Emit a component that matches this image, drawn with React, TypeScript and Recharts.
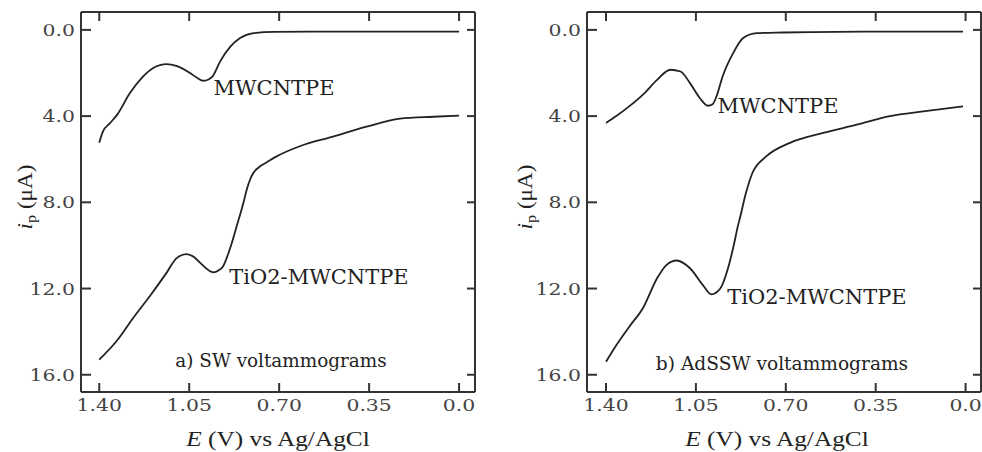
import React from 'react';
import { LineChart, Line, XAxis, YAxis } from 'recharts';

// x axis (potential, V) runs from 1.40 down to 0.0
const xTicks = [1.4, 1.05, 0.7, 0.35, 0];
const xTickLabels = ['1.40', '1.05', '0.70', '0.35', '0.0'];
const yTicks = [0, 4, 8, 12, 16];

// a) SW voltammograms
const swMwE = [1.4, 1.385, 1.36, 1.33, 1.28, 1.23, 1.19, 1.137, 1.1, 1.047, 1.02, 0.995, 0.975, 0.96, 0.93, 0.89, 0.852, 0.8, 0.72, 0.5, 0.25, 0.0];
const swMwI = [5.23, 4.7, 4.35, 3.93, 2.92, 2.17, 1.77, 1.59, 1.67, 2.0, 2.22, 2.36, 2.3, 2.17, 1.47, 0.78, 0.38, 0.15, 0.09, 0.08, 0.08, 0.08];
const swTiE = [1.4, 1.33, 1.27, 1.2, 1.137, 1.1, 1.06, 1.03, 1.008, 0.955, 0.935, 0.92, 0.89, 0.865, 0.839, 0.826, 0.813, 0.8, 0.774, 0.748, 0.71, 0.62, 0.49, 0.36, 0.23, 0.1, 0.0];
const swTiI = [15.3, 14.4, 13.4, 12.3, 11.25, 10.6, 10.4, 10.55, 10.8, 11.25, 11.15, 11.0, 10.1, 9.1, 8.02, 7.4, 6.94, 6.63, 6.33, 6.14, 5.87, 5.4, 4.95, 4.49, 4.12, 4.03, 3.98];

// b) AdSSW voltammograms
const adMwE = [1.4, 1.36, 1.31, 1.256, 1.2, 1.15, 1.11, 1.073, 1.035, 1.003, 0.985, 0.97, 0.946, 0.905, 0.866, 0.813, 0.71, 0.6, 0.4, 0.2, 0.01];
const adMwI = [4.32, 4.0, 3.55, 3.0, 2.31, 1.85, 1.93, 2.47, 3.16, 3.52, 3.45, 3.09, 2.16, 1.08, 0.38, 0.15, 0.12, 0.1, 0.08, 0.08, 0.08];
const adTiE = [1.4, 1.36, 1.31, 1.256, 1.2, 1.164, 1.125, 1.073, 1.022, 0.99, 0.955, 0.925, 0.9, 0.886, 0.88, 0.855, 0.83, 0.775, 0.684, 0.555, 0.424, 0.295, 0.165, 0.01];
const adTiI = [15.4, 14.63, 13.78, 12.9, 11.5, 10.9, 10.7, 11.06, 11.85, 12.27, 12.0, 11.06, 9.85, 9.07, 8.8, 7.56, 6.64, 5.86, 5.24, 4.78, 4.4, 4.0, 3.78, 3.55];

const zip = (e: number[], i: number[]) => e.map((v, k) => ({ E: v, i: i[k] }));

const TICK_FONT = '"DejaVu Serif", serif';
const TITLE_FONT = '"Liberation Serif", "Times New Roman", serif';
const TICK_STRETCH = 1.2;
const INK = '#333';

const LeftTick = (props: any) => {
  const { x, y, payload } = props;
  return (
    <g>
      <line x1={x} y1={y} x2={x + 10} y2={y} stroke={INK} strokeWidth={2} />
      <text
        transform={`translate(${x - 6},${y}) scale(${TICK_STRETCH},1)`}
        dy="0.36em"
        textAnchor="end"
        fontFamily={TICK_FONT}
        fontSize={17}
        fill="#444"
      >
        {Number(payload.value).toFixed(1)}
      </text>
    </g>
  );
};

const BottomTick = (props: any) => {
  const { x, y, payload } = props;
  const idx = xTicks.indexOf(payload.value);
  return (
    <g>
      <line x1={x} y1={y} x2={x} y2={y - 9} stroke={INK} strokeWidth={2} />
      <text
        transform={`translate(${x},${y + 19}) scale(${TICK_STRETCH},1)`}
        textAnchor="middle"
        fontFamily={TICK_FONT}
        fontSize={17}
        fill="#444"
      >
        {idx >= 0 ? xTickLabels[idx] : payload.value}
      </text>
    </g>
  );
};

// top and right frame sides come from a second pair of axes sharing the same domains
const TopTick = (props: any) => {
  const { x, y } = props;
  return <line x1={x} y1={y} x2={x} y2={y + 9} stroke={INK} strokeWidth={2} />;
};

const RightTick = (props: any) => {
  const { x, y } = props;
  return <line x1={x} y1={y} x2={x - 8} y2={y} stroke={INK} strokeWidth={2} />;
};

function Panel({ width, left, right, xMin, xMax, mw, ti }: any) {
  return (
    <LineChart width={width} height={452} margin={{ top: 2, right: right, bottom: 30, left: left }}>
      <XAxis xAxisId="b" type="number" dataKey="E" domain={[xMin, xMax]} reversed allowDataOverflow ticks={xTicks} height={30} tickSize={0} tickMargin={0} tickLine={false} axisLine={{ stroke: INK, strokeWidth: 2 }} tick={<BottomTick />} interval={0} />
      <XAxis xAxisId="t" orientation="top" type="number" dataKey="E" domain={[xMin, xMax]} reversed allowDataOverflow ticks={xTicks} height={10} tickSize={0} tickMargin={0} tickLine={false} axisLine={{ stroke: INK, strokeWidth: 2 }} tick={<TopTick />} interval={0} />
      <YAxis yAxisId="l" type="number" domain={[-0.83, 16.8]} reversed allowDataOverflow ticks={yTicks} width={50} tickSize={0} tickMargin={0} tickLine={false} axisLine={{ stroke: INK, strokeWidth: 2 }} tick={<LeftTick />} interval={0} />
      <YAxis yAxisId="r" orientation="right" type="number" domain={[-0.83, 16.8]} reversed allowDataOverflow ticks={yTicks} width={10} tickSize={0} tickMargin={0} tickLine={false} axisLine={{ stroke: INK, strokeWidth: 2 }} tick={<RightTick />} interval={0} />
      <Line data={mw} xAxisId="b" yAxisId="l" dataKey="i" type="monotone" stroke="#222" strokeWidth={1.8} dot={false} isAnimationActive={false} />
      <Line data={ti} xAxisId="t" yAxisId="r" dataKey="i" type="monotone" stroke="#222" strokeWidth={1.8} dot={false} isAnimationActive={false} />
    </LineChart>
  );
}

const Txt = ({ cx, cy, size, family, rotate, stretch = 1, children }: any) => (
  <div
    style={{
      position: 'absolute',
      left: cx,
      top: cy,
      transform: `translate(-50%, -50%)${rotate ? ' rotate(-90deg)' : ''} scaleX(${stretch})`,
      whiteSpace: 'nowrap',
      fontSize: size,
      lineHeight: 1,
      fontFamily: family,
      color: '#222',
    }}
  >
    {children}
  </div>
);

const YLabel = () => (
  <span>
    <i>i</i>
    <span style={{ fontSize: '0.7em', position: 'relative', top: '0.25em' }}>p</span> (μA)
  </span>
);

const XLabel = () => (
  <span>
    <i>E</i> (V) vs Ag/AgCl
  </span>
);

export default function App() {
  return (
    <div style={{ position: 'absolute', left: 0, top: 0, width: 982, height: 452, background: '#fff', overflow: 'hidden' }}>
      <div style={{ display: 'flex' }}>
        {/* plot areas: a) x 81..475, b) x 587..981, both y 12..392 */}
        <Panel width={490} left={31} right={5} xMin={-0.062} xMax={1.471} mw={zip(swMwE, swMwI)} ti={zip(swTiE, swTiI)} />
        <Panel width={492} left={47} right={-9} xMin={-0.06} xMax={1.474} mw={zip(adMwE, adMwI)} ti={zip(adTiE, adTiI)} />
      </div>

      <Txt cx={274} cy={88} size={21} family={TICK_FONT}>MWCNTPE</Txt>
      <Txt cx={319} cy={277} size={21} family={TICK_FONT}>TiO2-MWCNTPE</Txt>
      <Txt cx={281} cy={361} size={18.4} family={TICK_FONT}>a) SW voltammograms</Txt>
      <Txt cx={278} cy={439} size={22} stretch={1.15} family={TITLE_FONT}><XLabel /></Txt>
      <Txt cx={25} cy={197} size={22} stretch={1.05} family={TITLE_FONT} rotate><YLabel /></Txt>

      <Txt cx={778} cy={106} size={21} family={TICK_FONT}>MWCNTPE</Txt>
      <Txt cx={817} cy={297} size={21} family={TICK_FONT}>TiO2-MWCNTPE</Txt>
      <Txt cx={782} cy={364} size={18.6} family={TICK_FONT}>b) AdSSW voltammograms</Txt>
      <Txt cx={777} cy={439} size={22} stretch={1.15} family={TITLE_FONT}><XLabel /></Txt>
      <Txt cx={525} cy={197} size={22} stretch={1.05} family={TITLE_FONT} rotate><YLabel /></Txt>
    </div>
  );
}
